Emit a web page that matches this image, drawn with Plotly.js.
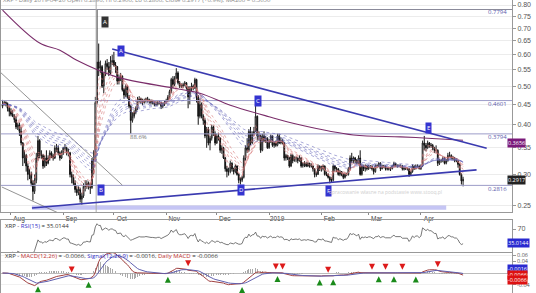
<!DOCTYPE html>
<html><head><meta charset="utf-8">
<script src="https://cdn.plot.ly/plotly-3.0.1.min.js"></script>
<style>html,body{margin:0;padding:0;background:#fff;overflow:hidden}</style>
</head><body><div id="chart" style="width:536px;height:293px"></div>
<script>
// Daily XRP candles, 2018-07-27 .. 2019-04-26 (one row per month)
const openP = [
.445,.450,.455,.452,.440,
.432,.425,.420,.412,.395,.400,.385,.360,.330,.335,.315,.300,.300,.285,.272,.290,.330,.365,.335,.335,.315,.330,.320,.330,.340,.335,.330,.350,.350,.340,.330,
.340,.350,.350,.340,.340,.300,.295,.285,.275,.270,.275,.260,.265,.280,.280,.285,.280,.278,.325,.330,.455,.575,.555,.560,.500,.535,.570,.560,.540,.575,
.580,.565,.560,.515,.525,.530,.490,.475,.500,.470,.445,.410,.420,.430,.440,.460,.465,.460,.455,.460,.465,.460,.460,.455,.455,.450,.450,.455,.455,.445,.450,
.455,.460,.470,.485,.520,.505,.525,.540,.510,.500,.500,.505,.510,.495,.470,.495,.500,.495,.520,.470,.420,.450,.420,.410,.375,.390,.360,.370,.395,.380,
.360,.375,.370,.345,.350,.330,.310,.305,.305,.320,.310,.305,.315,.300,.290,.290,.295,.330,.350,.345,.385,.360,.380,.385,.420,.375,.375,.345,.375,.365,.370,
.350,.365,.375,.355,.360,.355,.375,.360,.365,.360,.330,.335,.330,.315,.335,.325,.330,.330,.325,.330,.315,.320,.320,.315,.320,.315,.315,.310,.300,.300,.315,
.310,.310,.315,.300,.300,.295,.290,.290,.315,.310,.310,.300,.305,.300,.295,.300,.300,.310,.330,.325,.330,.325,.320,.330,.300,.315,.310,.315,
.310,.315,.315,.310,.305,.315,.315,.320,.310,.315,.315,.310,.310,.310,.310,.315,.320,.315,.315,.315,.315,.310,.310,.310,.310,.300,.305,.315,.310,.315,.315,
.310,.315,.360,.355,.350,.360,.355,.355,.350,.345,.345,.320,.325,.325,.330,.320,.325,.335,.335,.330,.330,.325,.325,.318,.300,.289];
const highP = [
.462,.460,.458,.455,.445,
.440,.435,.425,.420,.405,.405,.395,.362,.345,.338,.320,.310,.305,.290,.300,.340,.375,.368,.345,.338,.335,.345,.335,.345,.343,.338,.355,.358,.355,.343,.345,
.352,.358,.352,.348,.342,.305,.300,.290,.282,.280,.278,.270,.285,.290,.290,.288,.285,.330,.345,.470,.780,.640,.580,.565,.540,.580,.585,.575,.595,.600,
.610,.575,.562,.535,.540,.532,.495,.505,.502,.475,.448,.430,.435,.445,.470,.472,.468,.465,.465,.468,.470,.465,.463,.462,.458,.458,.460,.460,.457,.455,.460,
.465,.475,.490,.525,.530,.530,.555,.545,.515,.508,.510,.515,.512,.500,.500,.510,.505,.525,.522,.475,.465,.455,.425,.415,.395,.395,.375,.400,.398,.385,
.380,.382,.372,.355,.352,.332,.315,.312,.325,.322,.312,.318,.316,.302,.295,.298,.335,.355,.370,.390,.395,.385,.395,.460,.422,.385,.378,.380,.385,.375,.372,
.368,.378,.376,.362,.365,.380,.380,.372,.368,.362,.338,.336,.332,.338,.337,.333,.333,.331,.335,.332,.322,.324,.322,.322,.321,.320,.316,.311,.305,.318,.316,
.315,.318,.316,.305,.302,.297,.295,.318,.317,.313,.311,.308,.306,.302,.303,.303,.313,.335,.340,.333,.332,.328,.335,.345,.318,.316,.318,.317,
.317,.316,.316,.312,.318,.318,.322,.322,.317,.317,.316,.313,.312,.313,.317,.323,.321,.318,.318,.318,.317,.313,.312,.312,.311,.307,.318,.316,.318,.318,.316,
.318,.365,.375,.360,.365,.362,.360,.358,.352,.355,.347,.328,.328,.333,.332,.328,.340,.342,.337,.334,.332,.330,.327,.320,.302,.296];
const lowP = [
.440,.447,.445,.432,.420,
.420,.418,.405,.390,.388,.375,.355,.315,.320,.305,.290,.292,.280,.258,.268,.285,.325,.330,.328,.310,.312,.315,.318,.325,.330,.325,.328,.342,.335,.325,.328,
.336,.345,.335,.333,.295,.285,.282,.270,.265,.266,.255,.252,.262,.272,.276,.275,.268,.276,.300,.328,.450,.530,.540,.495,.480,.530,.550,.530,.535,.565,
.560,.540,.505,.505,.515,.485,.465,.470,.465,.440,.380,.405,.415,.425,.435,.455,.452,.448,.452,.455,.455,.452,.450,.450,.445,.446,.447,.450,.438,.440,.446,
.452,.456,.465,.480,.495,.500,.520,.505,.495,.495,.495,.500,.490,.440,.450,.485,.488,.492,.455,.400,.415,.415,.400,.370,.350,.355,.345,.365,.375,.355,
.358,.365,.340,.338,.328,.305,.295,.298,.302,.305,.300,.302,.298,.285,.283,.287,.293,.325,.340,.342,.355,.358,.375,.383,.365,.365,.340,.343,.362,.360,.348,
.348,.360,.352,.350,.352,.353,.358,.357,.357,.325,.325,.326,.312,.313,.320,.323,.322,.320,.323,.312,.312,.313,.313,.313,.312,.312,.305,.295,.296,.299,.306,
.305,.307,.298,.297,.293,.285,.286,.288,.305,.304,.298,.297,.297,.292,.293,.297,.298,.308,.320,.320,.320,.318,.318,.298,.298,.306,.305,.307,
.308,.310,.307,.300,.303,.311,.313,.306,.309,.311,.307,.307,.307,.306,.309,.313,.313,.312,.313,.312,.307,.307,.308,.307,.296,.298,.303,.308,.309,.312,.309,
.308,.313,.345,.343,.348,.350,.350,.345,.340,.340,.315,.317,.321,.322,.318,.318,.323,.332,.327,.326,.322,.322,.312,.298,.283,.280];
const closeP = [
.450,.455,.452,.440,.432,
.425,.420,.412,.395,.400,.385,.360,.330,.335,.315,.300,.300,.285,.272,.290,.330,.365,.335,.335,.315,.330,.320,.330,.340,.335,.330,.350,.350,.340,.330,.340,
.350,.350,.340,.340,.300,.295,.285,.275,.270,.275,.260,.265,.280,.280,.285,.280,.278,.325,.330,.455,.575,.555,.560,.500,.535,.570,.560,.540,.575,.580,
.565,.560,.515,.525,.530,.490,.475,.500,.470,.445,.410,.420,.430,.440,.460,.465,.460,.455,.460,.465,.460,.460,.455,.455,.450,.450,.455,.455,.445,.450,.455,
.460,.470,.485,.520,.505,.525,.540,.510,.500,.500,.505,.510,.495,.470,.495,.500,.495,.520,.470,.420,.450,.420,.410,.375,.390,.360,.370,.395,.380,.360,
.375,.370,.345,.350,.330,.310,.305,.305,.320,.310,.305,.315,.300,.290,.290,.295,.330,.350,.345,.385,.360,.380,.385,.420,.375,.375,.345,.375,.365,.370,.350,
.365,.375,.355,.360,.355,.375,.360,.365,.360,.330,.335,.330,.315,.335,.325,.330,.330,.325,.330,.315,.320,.320,.315,.320,.315,.315,.310,.300,.300,.315,.310,
.310,.315,.300,.300,.295,.290,.290,.315,.310,.310,.300,.305,.300,.295,.300,.300,.310,.330,.325,.330,.325,.320,.330,.300,.315,.310,.315,.310,
.315,.315,.310,.305,.315,.315,.320,.310,.315,.315,.310,.310,.310,.310,.315,.320,.315,.315,.315,.315,.310,.310,.310,.310,.300,.305,.315,.310,.315,.315,.310,
.315,.360,.355,.350,.360,.355,.355,.350,.345,.345,.320,.325,.325,.330,.320,.325,.335,.335,.330,.330,.325,.325,.318,.300,.289,.2917];

// 200-day moving average
const smaDates = ['2018-07-27','2018-08-18','2018-08-30','2018-09-09','2018-10-03','2018-11-05','2018-11-21','2018-12-09','2019-01-01','2019-01-19','2019-02-20','2019-03-20','2019-04-05','2019-04-26'];
const smaVals  = [0.777,0.642,0.616,0.581,0.527,0.495,0.480,0.448,0.419,0.400,0.377,0.373,0.370,0.3656];

// Drawn levels and trendlines
const fibLevels = [0.7794, 0.4601, 0.3794, 0.2816];
const fibLabels = ['0.7794','0.4601','0.3794','0.2816'];
const upperTrendX = ['2018-09-30','2019-05-10'], upperTrendY = [0.62, 0.349];
const lowerTrendX = ['2018-08-13 10:00','2019-05-04'], lowerTrendY = [0.247, 0.308];
const greyLine1X = ['2018-07-25 12:00','2018-10-06'], greyLine1Y = [0.543, 0.282];
const greyLine2X = ['2018-07-26 14:00','2018-08-31'], greyLine2Y = [0.279, 0.238];
const spikeDay = '2018-09-20 12:00';
const bandX = ['2018-08-13 10:00','2019-04-16'], bandY = [0.2445, 0.2505];

const monthTicks = ['2018-08-01','2018-09-01','2018-10-01','2018-11-01','2018-12-01','2019-01-01','2019-02-01','2019-03-01','2019-04-01'];
const monthLabels = ['Aug','Sep','Oct','Nov','Dec','2019','Feb','Mar','Apr'];
const priceTicks = [0.25,0.30,0.35,0.40,0.45,0.50,0.55,0.60,0.65,0.70,0.75,0.80];

// ---- build ----
const dates = [];
const t0 = Date.UTC(2018,6,27);
for (let i=0;i<closeP.length;i++) dates.push(new Date(t0+i*864e5).toISOString().slice(0,10));

function ema(a,n){const k=2/(n+1);const o=[];let v=a[0];for(let i=0;i<a.length;i++){v=i===0?a[0]:a[i]*k+v*(1-k);o.push(v);}return o;}
function rsi(c,n){const o=[null];let ag=0,al=0;for(let i=1;i<c.length;i++){const d=c[i]-c[i-1];const g=Math.max(d,0),l=Math.max(-d,0);const k=Math.min(i,n);ag=(ag*(k-1)+g)/k;al=(al*(k-1)+l)/k;o.push(i<6?null:(al===0?100:100-100/(1+ag/al)));}return o;}

const xRange = ['2018-07-26 02:00','2019-05-25'];
const traces = [];

fibLevels.forEach((lv,i)=>{
  traces.push({type:'scatter',mode:'lines',x:xRange,y:[lv,lv],xaxis:'x',yaxis:'y',
    line:{color:i===0?'#8a8a9a':'#9c9cc8',width:1},hoverinfo:'skip'});
});
traces.push({type:'scatter',mode:'lines',x:[bandX[0],bandX[1],bandX[1],bandX[0],bandX[0]],
  y:[bandY[0],bandY[0],bandY[1],bandY[1],bandY[0]],fill:'toself',fillcolor:'rgba(150,150,235,0.55)',
  line:{width:0},hoverinfo:'skip'});
traces.push({type:'scatter',mode:'lines',x:greyLine1X,y:greyLine1Y,line:{color:'#777',width:0.8}});
traces.push({type:'scatter',mode:'lines',x:greyLine2X,y:greyLine2Y,line:{color:'#777',width:0.8}});
traces.push({type:'scatter',mode:'lines',x:[spikeDay,spikeDay],y:[0.24,0.83],line:{color:'#aaa',width:1}});

[3,5,8,10,12,15].forEach(n=>traces.push({type:'scatter',mode:'lines',x:dates,y:ema(closeP,n),
  line:{color:'rgba(215,120,120,0.75)',width:0.8,dash:'dot'},hoverinfo:'skip'}));
[30,35,40,45,50,60].forEach(n=>traces.push({type:'scatter',mode:'lines',x:dates,y:ema(closeP,n),
  line:{color:'rgba(110,110,190,0.75)',width:0.8,dash:'dot'},hoverinfo:'skip'}));

traces.push({type:'scatter',mode:'lines',x:smaDates,y:smaVals,line:{color:'#7a2d6a',width:1.1,shape:'spline'}});

traces.push({type:'candlestick',x:dates,open:openP,high:highP,low:lowP,close:closeP,xaxis:'x',yaxis:'y',
  increasing:{line:{color:'#222',width:1},fillcolor:'#ffffff'},
  decreasing:{line:{color:'#111',width:1},fillcolor:'#111'},whiskerwidth:0});

traces.push({type:'scatter',mode:'lines',x:upperTrendX,y:upperTrendY,line:{color:'#3a3ab0',width:1.6}});
traces.push({type:'scatter',mode:'lines',x:lowerTrendX,y:lowerTrendY,line:{color:'#3a3ab0',width:1.6}});

traces.push({type:'scatter',mode:'lines',x:dates,y:rsi(closeP,15),xaxis:'x2',yaxis:'y2',line:{color:'#555',width:0.8}});

const e12=ema(closeP,12), e26=ema(closeP,26);
const macd=e12.map((v,i)=>v-e26[i]);
const sig=ema(macd,9);
const hist=macd.map((v,i)=>v-sig[i]);
traces.push({type:'bar',x:dates,y:hist,xaxis:'x3',yaxis:'y3',marker:{color:'#aaa'},width:0.45*864e5});
traces.push({type:'scatter',mode:'lines',x:dates,y:macd,xaxis:'x3',yaxis:'y3',line:{color:'#a04040',width:1}});
traces.push({type:'scatter',mode:'lines',x:dates,y:sig,xaxis:'x3',yaxis:'y3',line:{color:'#6060b0',width:1}});
const upX=[],upY=[],dnX=[],dnY=[];
for(let i=8;i<macd.length;i++){
  const a=macd[i-1]-sig[i-1], b=macd[i]-sig[i];
  if(a<=0&&b>0){upX.push(dates[i]);upY.push(Math.min(macd[i],sig[i])-0.011);}
  if(a>=0&&b<0){dnX.push(dates[i]);dnY.push(Math.max(macd[i],sig[i])+0.011);}
}
traces.push({type:'scatter',mode:'markers',x:upX,y:upY,xaxis:'x3',yaxis:'y3',marker:{symbol:'arrow-up',size:6,color:'#1a8a1a'}});
traces.push({type:'scatter',mode:'markers',x:dnX,y:dnY,xaxis:'x3',yaxis:'y3',marker:{symbol:'arrow-down',size:6,color:'#dd1a1a'}});

const P = (px)=>(px-1)/511, Q=(py)=>1-py/293;
const ann = [];
fibLabels.forEach((t,i)=>{
  const py=[12,104,137,189][i];
  ann.push({xref:'paper',yref:'paper',x:P(509),y:Q(py),xanchor:'right',yanchor:'middle',text:t,showarrow:false,font:{size:6,color:'#5a5aaa'}});
});
ann.push({xref:'paper',yref:'paper',x:P(128),y:Q(137),text:'88.6%',showarrow:false,font:{size:6,color:'#777'}});
const boxes=[['A',117,45,'#3434d0'],['C',258,95,'#3434d0'],['E',432,128,'#3434d0'],['B',97,196,'#3434d0'],['D',241,190,'#3434d0'],['F',328,191,'#3434d0'],['A',101,16,'#333']];
boxes.forEach(b=>ann.push({xref:'paper',yref:'paper',x:P(b[1]),y:Q(b[2]),text:b[0],showarrow:false,
  font:{size:6,color:'#fff'},bgcolor:b[3],borderpad:1}));
ann.push({xref:'paper',yref:'paper',x:P(444),y:Q(197),text:'opracowanie własne na podstawie www.stooq.pl',showarrow:false,font:{size:5,color:'#cfcfcf'}});
ann.push({xref:'paper',yref:'paper',x:0,y:1,xanchor:'left',yanchor:'middle',
  text:'XRP - Daily 2019-04-26 Open 0.2890, Hi 0.2960, Lo 0.2800, Close 0.2917 (+0.9%), MA200 = 0.3656',showarrow:false,font:{size:6,color:'#888'}});
ann.push({xref:'paper',yref:'paper',x:P(3),y:Q(225.5),xanchor:'left',yanchor:'middle',
  text:'XRP - <span style="color:#3434c8">RSI(15)</span> = 35.0144',showarrow:false,font:{size:6,color:'#333'}});
ann.push({xref:'paper',yref:'paper',x:P(3),y:Q(255.5),xanchor:'left',yanchor:'middle',
  text:'XRP - <span style="color:#c03030">MACD(12,26)</span> = -0.0066, <span style="color:#3434c8">Signal(12,26,9)</span> = -0.0016, <span style="color:#c03030">Daily MACD</span> = -0.0066',
  showarrow:false,font:{size:6,color:'#333'}});
const rboxes=[['0.3656',143,'#7a1a7a'],['0.2917',179.5,'#222'],['35.0144',243,'#2a2ad0'],['-0.0016',269,'#2a2ad0'],['-0.0066',274.5,'#dd1111'],['-0.0066',280,'#dd1111']];
rboxes.forEach(b=>ann.push({xref:'paper',yref:'paper',x:P(507),y:Q(b[1]),xanchor:'left',yanchor:'middle',text:b[0],
  showarrow:false,font:{size:5.5,color:'#fff'},bgcolor:b[2],borderpad:0}));

const axX = {type:'date',range:xRange,showgrid:false,zeroline:false,linecolor:'#999',linewidth:1,fixedrange:true};
const layout = {
  width:536,height:293,margin:{l:1,r:24,t:0,b:0},paper_bgcolor:'#fff',plot_bgcolor:'#fff',
  showlegend:false,hovermode:false,bargap:0,
  xaxis:Object.assign({},axX,{anchor:'y',domain:[0,1],rangeslider:{visible:false},showline:true,
    tickmode:'array',tickvals:monthTicks,ticktext:monthLabels,ticks:'outside',ticklen:2,tickcolor:'#888',
    tickfont:{size:6.5,color:'#444',family:'Arial, Liberation Sans, sans-serif'},ticklabelshift:8,ticklabelstandoff:-2}),
  xaxis2:Object.assign({},axX,{anchor:'y2',matches:'x',showticklabels:false,showline:true,mirror:true,ticks:''}),
  xaxis3:Object.assign({},axX,{anchor:'y3',matches:'x',showticklabels:false,showline:true,mirror:true,ticks:''}),
  yaxis:{domain:[1-212/293,1],type:'log',range:[Math.log10(0.2414),Math.log10(0.8235)],side:'right',anchor:'x',
    tickmode:'array',tickvals:priceTicks,ticktext:priceTicks.map(v=>v.toFixed(2)),ticks:'outside',ticklen:3,tickcolor:'#999',
    tickfont:{size:7,color:'#555',family:'Arial, Liberation Sans, sans-serif'},showgrid:true,gridcolor:'#ececec',
    showline:true,mirror:true,linecolor:'#999',zeroline:false,fixedrange:true},
  yaxis2:{domain:[1-252/293,1-220/293],range:[12.5,92.5],side:'right',anchor:'x2',tickmode:'array',tickvals:[70],
    ticks:'outside',ticklen:3,tickcolor:'#999',tickfont:{size:7,color:'#555'},showgrid:false,showline:true,mirror:true,linecolor:'#999',zeroline:false},
  yaxis3:{domain:[0,1-253/293],range:[-0.067,0.067],side:'right',anchor:'x3',tickmode:'array',
    tickvals:[0.06,0.04,-0.04],ticktext:['0.06','0.04','-0.04'],
    ticks:'outside',ticklen:3,tickcolor:'#999',tickfont:{size:5.5,color:'#555'},showgrid:true,gridcolor:'#f1f1f1',
    showline:true,mirror:true,linecolor:'#999',zeroline:true,zerolinecolor:'#bbb',zerolinewidth:1},
  annotations:ann
};
Plotly.newPlot('chart',traces,layout,{staticPlot:true,displayModeBar:false});
</script></body></html>
